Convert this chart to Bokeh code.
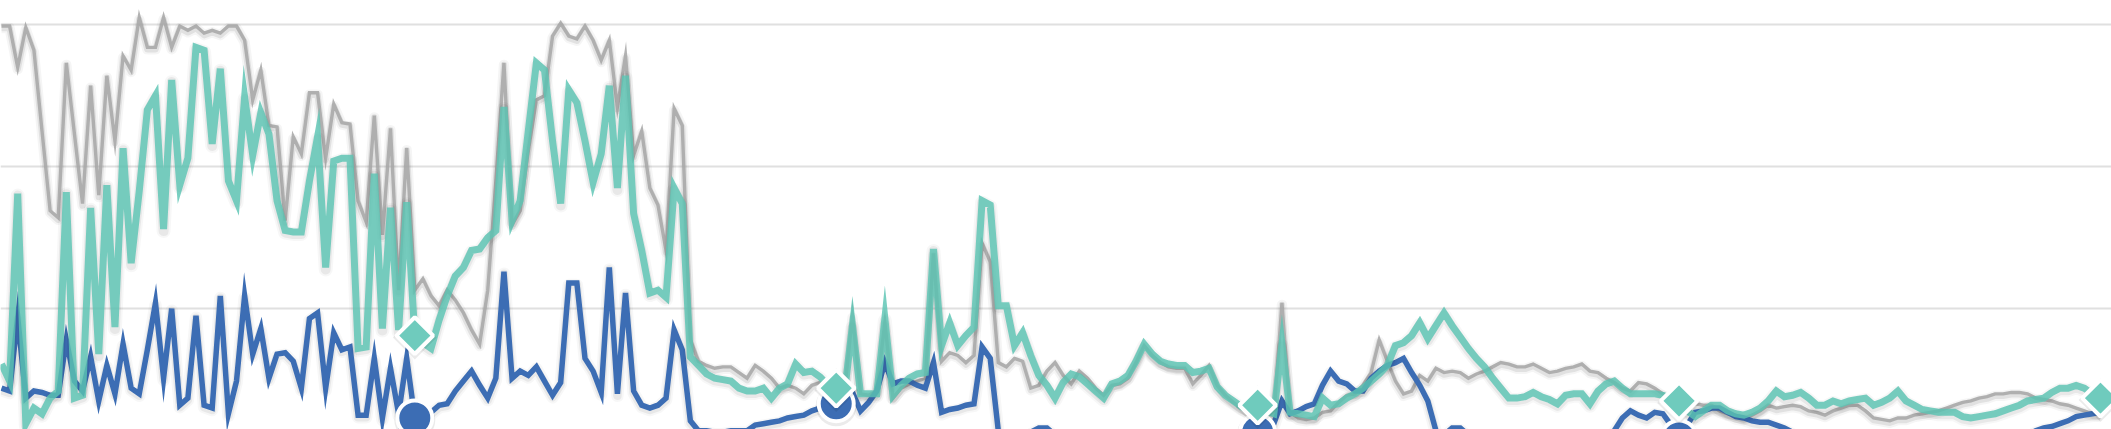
import math
from bokeh.plotting import figure
from bokeh.models import Range1d, Grid, FixedTicker, ColumnDataSource
from bokeh.transform import dodge
from bokeh.embed import file_html
from bokeh.resources import INLINE

# ---- data ----
TEAL = [61, 49, 181, 19, 30, 26, 37, 42, 182, 37,
        39, 171, 68, 187, 87, 213, 132, 183, 240, 250,
        156, 261, 187, 206, 284, 282, 216, 269, 190, 176,
        249, 208, 238, 223, 176, 155, 154, 154, 190, 221,
        129, 204, 206, 206, 72, 73, 195, 86, 171, 85,
        175, 81, 76, 72, 92, 109, 123, 129, 141, 142,
        150, 155, 242, 162, 176, 225, 273, 268, 218, 174,
        254, 245, 218, 189, 209, 257, 185, 264, 167, 141,
        111, 113, 108, 185, 174, 66, 60, 54, 51, 50,
        49, 44, 42, 42, 44, 37, 44, 47, 61, 55,
        56, 52, 46, 44, 40, 88, 40, 40, 40, 93,
        39, 46, 51, 54, 55, 142, 74, 90, 74, 81,
        87, 176, 173, 102, 102, 74, 83, 67, 53, 46,
        37, 48, 54, 52, 47, 42, 37, 47, 49, 53,
        63, 75, 68, 63, 61, 60, 60, 55, 56, 58,
        45, 39, 35, 31, 28, 32, 28, 26, 75, 27,
        26, 25, 24, 37, 32, 33, 37, 40, 44, 49,
        54, 60, 74, 76, 81, 90, 79, 88, 97, 88,
        80, 72, 65, 59, 51, 44, 37, 37, 38, 41,
        38, 36, 33, 39, 40, 40, 33, 42, 47, 49,
        44, 40, 40, 40, 40, 39, 37, 35, 28, 24,
        28, 32, 32, 28, 26, 25, 27, 30, 35, 42,
        38, 39, 41, 37, 32, 32, 35, 33, 35, 36,
        37, 32, 34, 37, 42, 35, 32, 29, 28, 27,
        27, 27, 24, 23, 24, 25, 26, 28, 30, 32,
        35, 36, 37, 41, 44, 44, 46, 44, 40, 37]

BLUE = [44, 42, 94, 37, 42, 41, 39, 39, 78, 49,
        42, 66, 35, 60, 40, 75, 44, 40, 71, 104,
        51, 100, 32, 37, 95, 32, 30, 109, 26, 49,
        109, 68, 86, 51, 68, 69, 63, 44, 93, 97,
        44, 83, 71, 73, 25, 25, 65, 23, 58, 26,
        65, 23, 25, 27, 32, 33, 42, 49, 56, 46,
        37, 51, 126, 51, 56, 53, 59, 49, 39, 48,
        118, 118, 65, 56, 41, 129, 40, 111, 42, 32,
        30, 32, 37, 85, 71, 21, 14, 14, 13, 13,
        14, 14, 14, 18, 19, 20, 21, 23, 24, 25,
        28, 30, 32, 33, 37, 41, 28, 34, 42, 62,
        47, 49, 49, 46, 44, 62, 27, 29, 30, 32,
        33, 73, 65, 14, 7, 5, 7, 13, 16, 16,
        11, 4, 3, 2, 4, 2, 3, 5, 4, 2,
        3, 4, 2, 1, 3, 4, 3, 2, 4, 3,
        3, 4, 7, 10, 13, 13, 16, 19, 35, 26,
        28, 31, 33, 46, 56, 49, 47, 42, 42, 51,
        56, 60, 62, 65, 55, 46, 35, 14, 11, 16,
        16, 11, 5, 3, 2, 4, 3, 2, 3, 5,
        4, 2, 3, 4, 3, 2, 4, 6, 7, 14,
        23, 28, 25, 23, 27, 26, 18, 9, 18, 27,
        28, 30, 30, 27, 24, 23, 21, 20, 20, 18,
        16, 13, 8, 5, 4, 3, 4, 2, 3, 5,
        4, 3, 2, 3, 4, 5, 3, 2, 3, 4,
        3, 2, 4, 3, 5, 4, 3, 5, 6, 9,
        11, 14, 16, 17, 19, 21, 24, 25, 26, 27]

GREY = [299, 299, 270, 298, 282, 225, 169, 164, 273, 223,
        174, 257, 180, 264, 218, 278, 268, 305, 284, 284,
        305, 284, 299, 296, 299, 294, 296, 294, 299, 299,
        289, 247, 268, 229, 228, 162, 221, 209, 252, 252,
        206, 244, 231, 230, 176, 161, 236, 152, 227, 113,
        213, 113, 121, 109, 102, 113, 106, 97, 85, 75,
        113, 190, 273, 159, 169, 211, 247, 250, 292, 301,
        292, 290, 299, 289, 275, 289, 242, 278, 208, 225,
        185, 173, 141, 241, 229, 78, 63, 60, 58, 59,
        59, 55, 51, 60, 56, 51, 44, 46, 44, 40,
        46, 48, 44, 42, 41, 95, 40, 39, 42, 90,
        37, 44, 47, 49, 51, 139, 63, 69, 67, 62,
        67, 146, 133, 62, 59, 65, 63, 44, 46, 56,
        62, 53, 47, 56, 51, 44, 39, 46, 47, 51,
        62, 74, 67, 62, 59, 58, 58, 47, 53, 60,
        46, 39, 34, 30, 27, 27, 26, 25, 104, 27,
        23, 22, 23, 27, 28, 34, 39, 40, 46, 55,
        78, 63, 49, 40, 42, 53, 49, 58, 55, 56,
        55, 51, 54, 56, 59, 62, 61, 59, 59, 61,
        58, 55, 56, 58, 59, 61, 56, 55, 51, 48,
        44, 42, 48, 47, 44, 40, 37, 35, 34, 33,
        32, 32, 28, 26, 25, 23, 25, 28, 32, 30,
        31, 32, 31, 28, 27, 25, 28, 30, 32, 32,
        28, 23, 22, 21, 23, 23, 25, 26, 27, 28,
        30, 32, 34, 35, 37, 38, 40, 40, 41, 41,
        40, 37, 36, 35, 33, 32, 30, 28, 26, 25]

DAY = list(range(len(TEAL)))
TEAL_MARKS = [51, 103, 155, 207, 259]
BLUE_MARKS = [51, 103, 155, 207]
GRID_VALUES = [0, 100, 200, 300]

src = ColumnDataSource(dict(day=DAY, teal=TEAL, blue=BLUE, grey=GREY))
tm = ColumnDataSource(dict(day=TEAL_MARKS, teal=[TEAL[i] for i in TEAL_MARKS]))
bm = ColumnDataSource(dict(day=BLUE_MARKS, blue=[BLUE[i] for i in BLUE_MARKS]))

p = figure(width=2111, height=429, x_axis_type=None, y_axis_type=None,
           x_range=Range1d(-0.123, 260.36), y_range=Range1d(14.9, 317.0),
           output_backend="svg", toolbar_location=None, min_border=0,
           outline_line_color=None, background_fill_color="white",
           border_fill_color="white")

p.add_layout(Grid(dimension=1, ticker=FixedTicker(ticks=GRID_VALUES),
                  grid_line_color="#e0e0e0", grid_line_width=2))

SH = -1.4  # shadow drop


def shadowed_line(field, color, width, alpha, sh_alpha):
    p.line("day", dodge(field, SH), source=src, line_color="#000000",
           line_alpha=sh_alpha * 0.5, line_width=width + 7, line_join="round")
    p.line("day", dodge(field, SH), source=src, line_color="#000000",
           line_alpha=sh_alpha, line_width=width + 3, line_join="round")
    p.line("day", field, source=src, line_color=color, line_alpha=alpha,
           line_width=width, line_join="miter")


shadowed_line("grey", "#a6a6a6", 3.4, 0.85, 0.08)
shadowed_line("blue", "#3c6db4", 5.5, 1.0, 0.06)
shadowed_line("teal", "#5cc4b3", 7, 0.82, 0.06)

p.scatter("day", dodge("blue", SH), source=bm, marker="circle", size=41,
          fill_color="#000000", fill_alpha=0.08, line_color=None)
p.scatter("day", "blue", source=bm, marker="circle", size=35,
          fill_color="#3c6db4", line_color="white", line_width=4)
p.scatter("day", dodge("teal", SH), source=tm, marker="square", size=31,
          angle=math.pi / 4, fill_color="#000000", fill_alpha=0.08, line_color=None)
p.scatter("day", "teal", source=tm, marker="square", size=26, angle=math.pi / 4,
          fill_color="#6fcbbd", line_color="white", line_width=4)

open("out.html", "w").write(file_html(p, INLINE))
